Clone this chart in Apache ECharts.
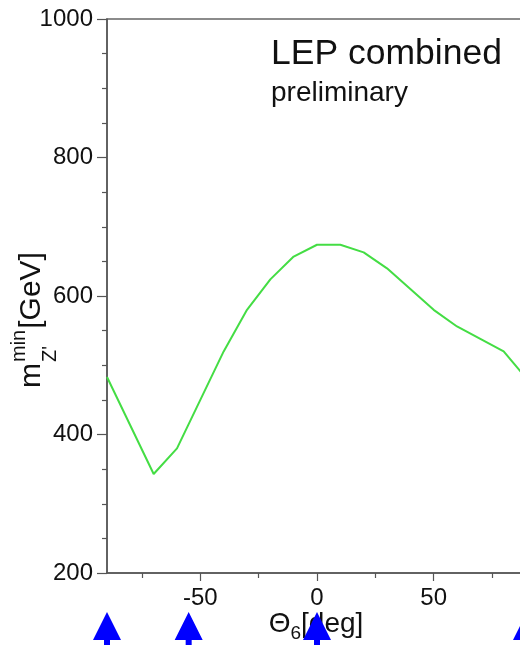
<!DOCTYPE html>
<html><head><meta charset="utf-8">
<script src="https://cdn.jsdelivr.net/npm/echarts@6/dist/echarts.min.js"></script>
<style>html,body{margin:0;padding:0;overflow:hidden;background:#fff}#c{width:540px;height:645px}</style>
</head><body><div id="c"></div>
<script>
// Θ6 [deg] sample points
const theta = [-90,-80,-70,-60,-50,-40,-30,-20,-10,0,10,20,30,40,50,60,70,80,90];
// m_Z'^min [GeV]
const mMin = [483,413,343,380,450,520,580,624,657,674,674,663,640,610,580,556,538,520,480];
// model arrow positions (Θ6)
const arrowTheta = [-90,-55,0,90];
// tick labels
const xMajor = [-50,0,50];
const xMinor = [-75,-25,25,75];

const FONT = '"Liberation Sans", Arial, Helvetica, sans-serif';
const ctx = document.createElement('canvas').getContext('2d');
function tw(t, size){ ctx.font = size + 'px ' + FONT; return ctx.measureText(t).width; }
// text element placed by its baseline (middle-aligned internally)
function txt(text, x, base, size){
  return {type:'text', style:{text:text, x:x, y:base - 0.3465*size, font:size+'px '+FONT, fill:'#111', textVerticalAlign:'middle', textAlign:'left'}};
}

const chart = echarts.init(document.getElementById('c'), null, {renderer:'canvas'});

// y-axis title layout (rotated, reads bottom-to-top)
const FY = 30, FYs = 20;
const mW = tw('m', FY);
const supW = tw('min', FYs), subW = tw("Z'", FYs);
const yTitleChildren = [
  txt('m', 0, 0, FY),
  txt('min', mW+1, -16, FYs),
  txt("Z'", mW+1, 15, FYs),
  txt('[GeV]', mW+2+Math.max(supW,subW), 0, FY)
];
// x-axis title layout
const FX = 28, FXs = 19;
const thW = tw('Θ', FX), sixW = tw('6', FXs), degW = tw('[deg]', FX);
const xTotal = thW + sixW + degW;
const xTitleChildren = [
  txt('Θ', 0, 0, FX),
  txt('6', thW, 7, FXs),
  txt('[deg]', thW+sixW, 0, FX)
];

const axisLineStyle = {color:'#555', width:1.5};
const option = {
  animation:false,
  backgroundColor:'#fff',
  grid:[
    {left:107, top:19, width:420, height:554, show:true, borderColor:'#666', borderWidth:1.5, backgroundColor:'transparent'},
    {left:107, top:612, width:420, height:30}
  ],
  xAxis:[
    {type:'value', gridIndex:0, min:-90, max:90, position:'bottom',
     axisLine:{show:true, onZero:false, lineStyle:axisLineStyle},
     axisTick:{show:true, length:8, lineStyle:{color:'#555', width:1.2}, customValues:xMajor},
     axisLabel:{show:true, customValues:xMajor, margin:13, fontSize:24, color:'#111', fontFamily:FONT},
     splitLine:{show:false}},
    {type:'value', gridIndex:0, min:-90, max:90, position:'bottom',
     axisLine:{show:false, onZero:false},
     axisTick:{show:true, length:5, lineStyle:{color:'#555', width:1.2}, customValues:xMinor},
     axisLabel:{show:false}, splitLine:{show:false}},
    {type:'value', gridIndex:1, min:-90, max:90, show:false}
  ],
  yAxis:[
    {type:'value', gridIndex:0, min:200, max:1000, interval:200,
     axisLine:{show:true, onZero:false, lineStyle:axisLineStyle},
     axisTick:{show:true, length:10, lineStyle:{color:'#555', width:1.2}},
     minorTick:{show:true, splitNumber:4, length:5, lineStyle:{color:'#555', width:1.2}},
     axisLabel:{margin:14, fontSize:24, color:'#111', fontFamily:FONT, formatter:v=>String(v)},
     splitLine:{show:false}},
    {type:'value', gridIndex:1, min:0, max:1, show:false}
  ],
  series:[
    {type:'line', xAxisIndex:0, yAxisIndex:0, data: theta.map((t,i)=>[t, mMin[i]]),
     showSymbol:false, symbol:'none', lineStyle:{color:'#44dd44', width:2}, z:3},
    {type:'scatter', xAxisIndex:2, yAxisIndex:1, data: arrowTheta.map(t=>[t,1]),
     symbol:'path://M14 0L28 28L17 28L17 40L11 40L11 28L0 28Z', symbolSize:[28,40], symbolKeepAspect:false,
     symbolOffset:[0,20], itemStyle:{color:'#0000ff', opacity:1}, clip:false, z:20, silent:true}
  ],
  graphic:[
    {type:'group', x:271, y:0, z:1, children:[txt('LEP combined', 0, 66.5, 35.5)]},
    {type:'group', x:271, y:0, z:1, children:[txt('preliminary', 0, 102.5, 28)]},
    {type:'group', x:42, y:388, rotation:Math.PI/2, z:1, children:yTitleChildren},
    {type:'group', x:316 - xTotal/2, y:633.5, z:1, children:xTitleChildren}
  ]
};
chart.setOption(option);
</script></body></html>
